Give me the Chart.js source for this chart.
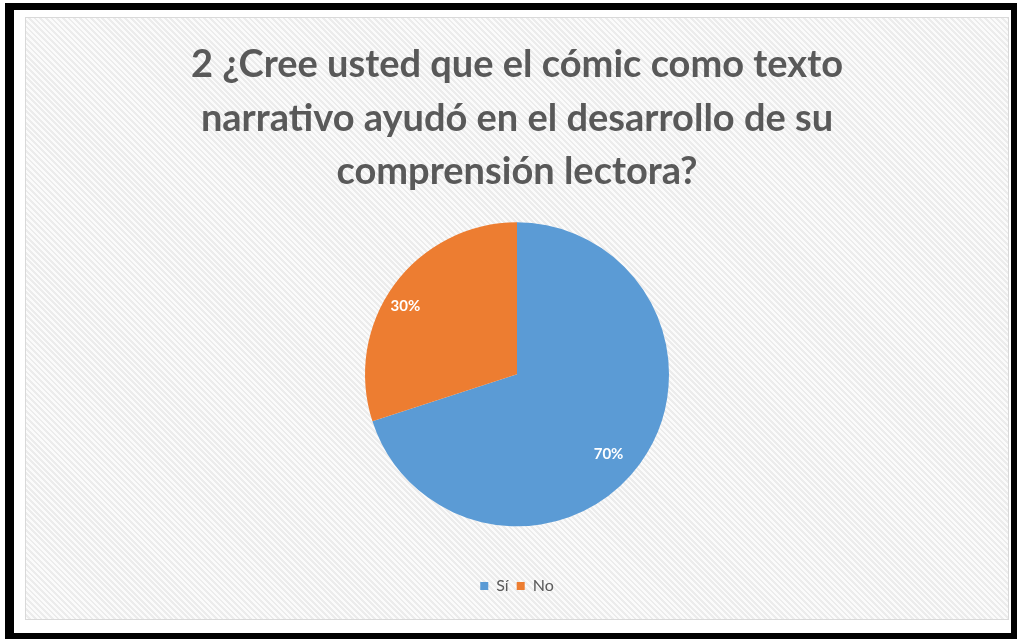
<!DOCTYPE html>
<html>
<head>
<meta charset="utf-8">
<script src="https://cdn.jsdelivr.net/npm/chart.js@4"></script>
<style>
  html, body { margin: 0; padding: 0; background: #fff; }
  #frame { position: absolute; left: 0; top: 0; width: 1017px; height: 639px; background: #fff; overflow: hidden; }
  .blk { position: absolute; background: #000; }
  #box {
    position: absolute; left: 25px; top: 17px; width: 984px; height: 603px;
    border: 1px solid #d9d9d9; box-sizing: border-box;
    background: repeating-linear-gradient(45deg, #fbfbfb 0px, #fbfbfb 2px, #ececec 2px, #ececec 4px);
  }
  #c { position: absolute; left: 26px; top: 18px; }
</style>
</head>
<body>
<div id="frame">
  <div id="box"></div>
  <canvas id="c" width="982" height="601"></canvas>
  <div class="blk" style="left:5px; top:3px; width:1012px; height:7px;"></div>
  <div class="blk" style="left:5px; top:3px; width:9px; height:636px;"></div>
  <div class="blk" style="left:5px; top:633px; width:1012px; height:6px;"></div>
  <div class="blk" style="left:1011px; top:3px; width:6px; height:636px;"></div>
</div>
<script>
const titleLines = ["2 ¿Cree usted que el cómic como texto", "narrativo ayudó en el desarrollo de su", "comprensión lectora?"];
const categories = ["Sí", "No"];
const values = [70, 30];
const valueLabels = ["70%", "30%"];
const colors = ["#5B9BD5", "#ED7D31"];

const labelPlugin = {
  id: 'sliceLabels',
  afterDatasetsDraw(chart) {
    const ctx = chart.ctx;
    const meta = chart.getDatasetMeta(0);
    const dist = [0.8, 0.86];
    const turn = [0.09, -0.08];
    ctx.save();
    ctx.font = 'bold 15px Lato, "Open Sans", sans-serif';
    ctx.fillStyle = '#ffffff';
    ctx.textAlign = 'center';
    ctx.textBaseline = 'middle';
    meta.data.forEach((arc, i) => {
      const p = arc.getProps(['x', 'y', 'startAngle', 'endAngle', 'outerRadius'], true);
      const mid = (p.startAngle + p.endAngle) / 2 + turn[i];
      const r = p.outerRadius * dist[i];
      ctx.fillText(valueLabels[i], p.x + Math.cos(mid) * r, p.y + Math.sin(mid) * r);
    });
    ctx.restore();
  }
};

new Chart(document.getElementById('c'), {
  type: 'pie',
  data: {
    labels: categories,
    datasets: [{ data: values, backgroundColor: colors, borderWidth: 0, radius: 152 }]
  },
  options: {
    responsive: false,
    animation: false,
    layout: { padding: { top: 20, bottom: 15 } },
    plugins: {
      title: {
        display: true,
        text: titleLines,
        color: '#595959',
        font: { family: 'Lato, "Open Sans", sans-serif', size: 38, weight: 'bold', lineHeight: 1.41 },
        padding: { top: 0, bottom: -20 }
      },
      legend: {
        display: true,
        position: 'bottom',
        labels: {
          color: '#595959',
          boxWidth: 8, boxHeight: 8,
          padding: 8,
          font: { family: 'Lato, "Open Sans", sans-serif', size: 16 }
        }
      },
      tooltip: { enabled: false }
    }
  },
  plugins: [labelPlugin]
});
</script>
</body>
</html>
